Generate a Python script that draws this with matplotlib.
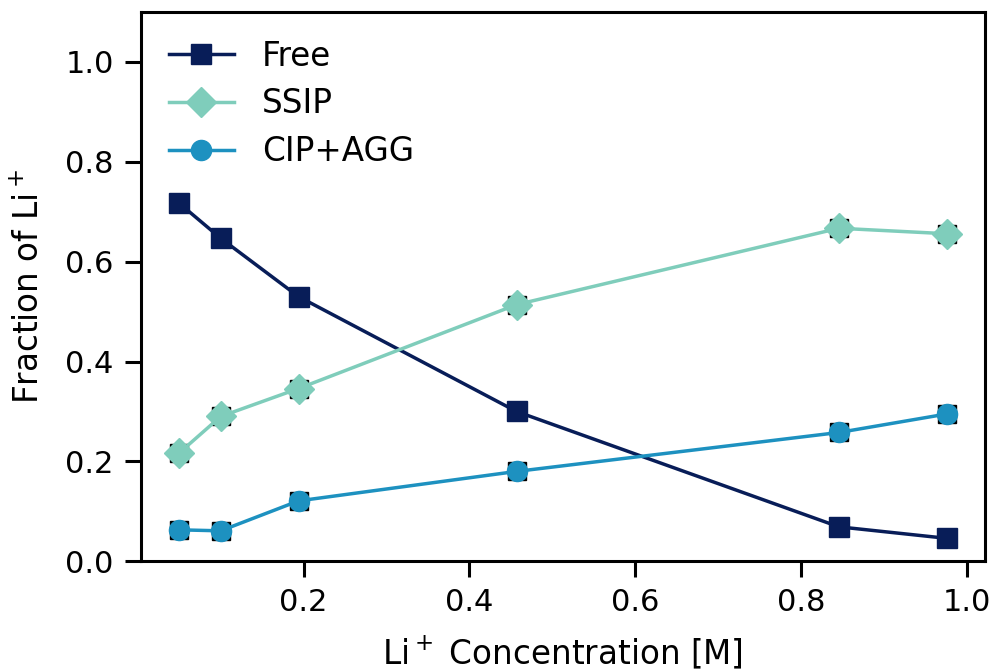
import matplotlib
matplotlib.use("Agg")
import matplotlib.pyplot as plt
import numpy as np

# Li+ concentration [M]
conc = [0.05, 0.10, 0.194, 0.457, 0.846, 0.976]

# fraction of Li+ in each state
free = [0.717, 0.647, 0.530, 0.300, 0.069, 0.046]
ssip = [0.217, 0.290, 0.346, 0.514, 0.667, 0.656]
cip_agg = [0.063, 0.061, 0.121, 0.180, 0.258, 0.295]

labels = ["Free", "SSIP", "CIP+AGG"]
colors = ["#081d58", "#7fcdbb", "#1d91c0"]
markers = ["s", "D", "o"]

plt.rcParams["font.family"] = "DejaVu Sans"
plt.rcParams["font.size"] = 23.5

fig = plt.figure(figsize=(9.92, 6.69), dpi=100)
ax = fig.add_axes([0.142, 0.161, 0.851, 0.821])

for series, label, color, marker in zip([free, ssip, cip_agg], labels, colors, markers):
    # small black square underneath each point
    ax.plot(conc, series, linestyle="none", marker="s", ms=13.5, color="black", zorder=2)
    ms = 15.5 if marker == "D" else 14.5
    ax.plot(conc, series, color=color, marker=marker, ms=ms, lw=2.5,
            label=label, zorder=3)

ax.set_ylim(0, 1.1)
ax.set_yticks(np.arange(0, 1.01, 0.2))
ax.set_xticks([0.2, 0.4, 0.6, 0.8, 1.0])
ax.set_xlabel("Li$^+$ Concentration [M]", labelpad=12)
ax.set_ylabel("Fraction of Li$^+$", labelpad=14)

for spine in ax.spines.values():
    spine.set_linewidth(2.2)
ax.tick_params(direction="out", length=11.5, width=2.2, pad=8, labelsize=22)

ax.legend(loc="upper left", frameon=False, handlelength=2.0, borderaxespad=0.45,
          labelspacing=0.45, handletextpad=0.85)

fig.savefig("out.png", dpi=100)
